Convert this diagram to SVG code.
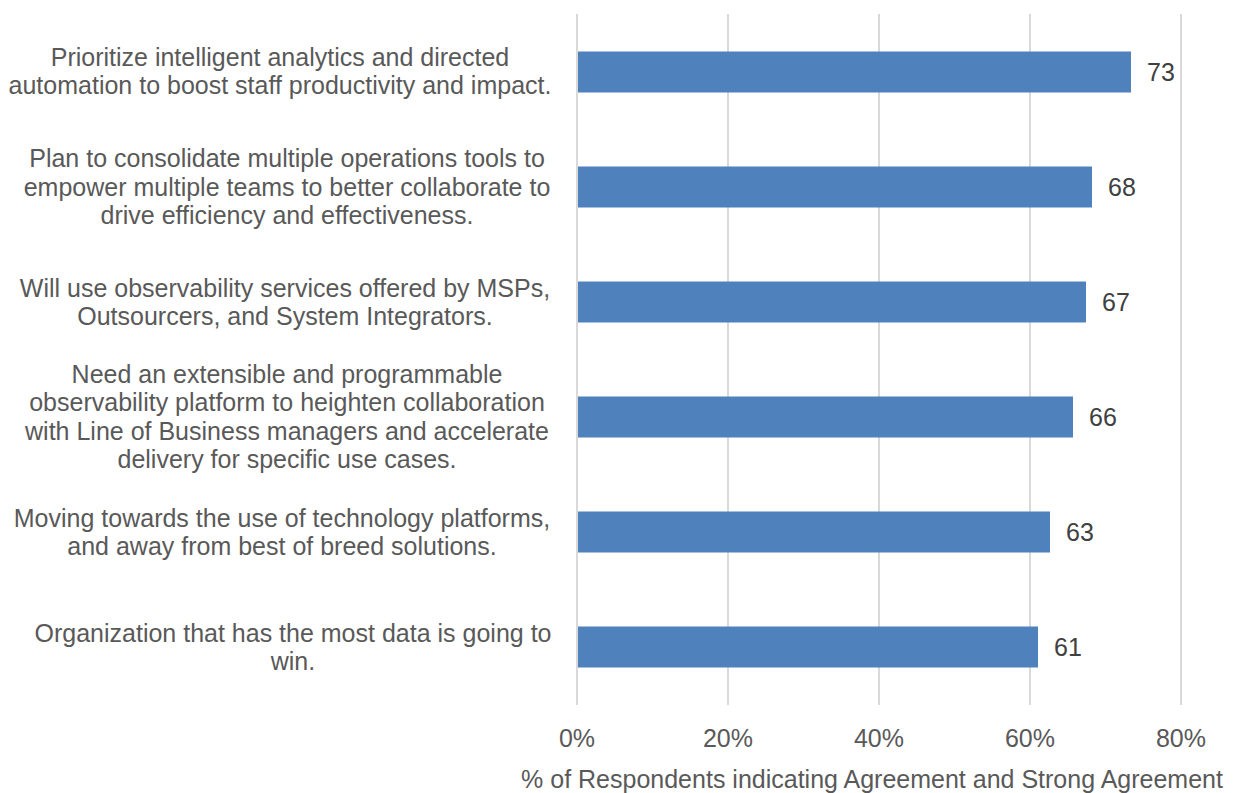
<svg xmlns="http://www.w3.org/2000/svg" width="1237" height="793" viewBox="0 0 1237 793">
<style>
.grid{stroke:#d9d9d9;stroke-width:2}
.bar{fill:#4f81bd}
.cat{font-family:"Liberation Sans",Arial,sans-serif;font-size:25px;fill:#595959;text-anchor:middle}
.val{font-family:"Liberation Sans",Arial,sans-serif;font-size:25px;fill:#404040}
.tick{font-family:"Liberation Sans",Arial,sans-serif;font-size:25px;fill:#595959;text-anchor:middle}
</style>
<rect width="1237" height="793" fill="#ffffff"/>
<g id="gridlines">
<line class="grid" x1="577" y1="14" x2="577" y2="705"/>
<line class="grid" x1="728" y1="14" x2="728" y2="705"/>
<line class="grid" x1="879" y1="14" x2="879" y2="705"/>
<line class="grid" x1="1030" y1="14" x2="1030" y2="705"/>
<line class="grid" x1="1181" y1="14" x2="1181" y2="705"/>
</g>
<g id="bar1">
<rect class="bar" x="578" y="51.5" width="553" height="41"/>
<text class="val" x="1147" y="81">73</text>
<text class="cat" x="280" y="66">Prioritize intelligent analytics and directed</text>
<text class="cat" x="280" y="94">automation to boost staff productivity and impact.</text>
</g>
<g id="bar2">
<rect class="bar" x="578" y="166.5" width="514" height="41"/>
<text class="val" x="1108" y="196">68</text>
<text class="cat" x="287" y="167">Plan to consolidate multiple operations tools to</text>
<text class="cat" x="287" y="196">empower multiple teams to better collaborate to</text>
<text class="cat" x="287" y="224">drive efficiency and effectiveness.</text>
</g>
<g id="bar3">
<rect class="bar" x="578" y="281.5" width="508" height="41"/>
<text class="val" x="1102" y="311">67</text>
<text class="cat" x="285" y="297">Will use observability services offered by MSPs,</text>
<text class="cat" x="285" y="325">Outsourcers, and System Integrators.</text>
</g>
<g id="bar4">
<rect class="bar" x="578" y="396.5" width="495" height="41"/>
<text class="val" x="1089" y="426">66</text>
<text class="cat" x="287" y="383">Need an extensible and programmable</text>
<text class="cat" x="287" y="411">observability platform to heighten collaboration</text>
<text class="cat" x="287" y="440">with Line of Business managers and accelerate</text>
<text class="cat" x="287" y="468">delivery for specific use cases.</text>
</g>
<g id="bar5">
<rect class="bar" x="578" y="511.5" width="472" height="41"/>
<text class="val" x="1066" y="541">63</text>
<text class="cat" x="282" y="527">Moving towards the use of technology platforms,</text>
<text class="cat" x="282" y="555">and away from best of breed solutions.</text>
</g>
<g id="bar6">
<rect class="bar" x="578" y="626.5" width="460" height="41"/>
<text class="val" x="1054" y="656">61</text>
<text class="cat" x="293" y="642">Organization that has the most data is going to</text>
<text class="cat" x="293" y="670">win.</text>
</g>
<g id="axis">
<text class="tick" x="577" y="747">0%</text>
<text class="tick" x="728" y="747">20%</text>
<text class="tick" x="879" y="747">40%</text>
<text class="tick" x="1030" y="747">60%</text>
<text class="tick" x="1181" y="747">80%</text>
<text class="tick" x="872" y="788">% of Respondents indicating Agreement and Strong Agreement</text>
</g>
</svg>
